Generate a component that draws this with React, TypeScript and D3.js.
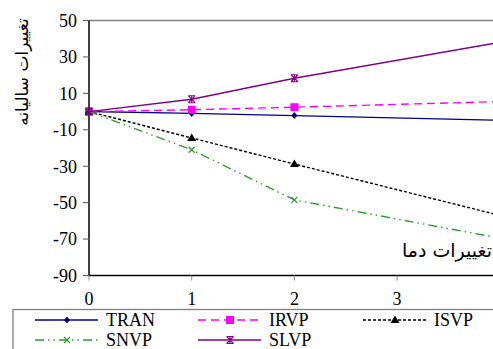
import React from "react";
import * as d3 from "d3";

// x positions of the measured points
const xs = [0, 1, 2, 4];

const tran = [0, -1, -2.2, -4.8];
const irvp = [0, 1, 2.4, 5.5];
const isvp = [0, -14.5, -28.8, -57];
const snvp = [0, -21, -48.5, -69.5];
const slvp = [0, 6.8, 18.3, 38];

const yTicks = [50, 30, 10, -10, -30, -50, -70, -90];
const xTicks = [0, 1, 2, 3];

const W = 493;
const H = 349;
const left = 89;
const top = 20.5;
const bottom = 275.5;

const x = d3.scaleLinear().domain([0, 4]).range([left, left + 4 * 102.7]);
const y = d3.scaleLinear().domain([-90, 50]).range([bottom, top]);

const series = [
  { name: "TRAN", values: tran, color: "#000080", dash: "", marker: "diamond" },
  { name: "IRVP", values: irvp, color: "#ff00ff", dash: "8,5", marker: "square" },
  { name: "ISVP", values: isvp, color: "#000000", dash: "3,2", marker: "triangle" },
  { name: "SNVP", values: snvp, color: "#339933", dash: "9,4,1.5,4,1.5,4", marker: "x" },
  { name: "SLVP", values: slvp, color: "#800080", dash: "", marker: "star" },
];

function Marker({ kind, cx, cy, color }: { kind: string; cx: number; cy: number; color: string }) {
  if (kind === "diamond")
    return <path d={`M${cx},${cy - 3.5}L${cx + 3},${cy}L${cx},${cy + 3.5}L${cx - 3},${cy}Z`} fill={color} />;
  if (kind === "square") return <rect x={cx - 4} y={cy - 4} width={8} height={8} fill={color} />;
  if (kind === "triangle")
    return <path d={`M${cx},${cy - 4.5}L${cx + 4.5},${cy + 3}L${cx - 4.5},${cy + 3}Z`} fill={color} />;
  if (kind === "x")
    return (
      <path d={`M${cx - 3},${cy - 3}L${cx + 3},${cy + 3}M${cx - 3},${cy + 3}L${cx + 3},${cy - 3}`} stroke={color} strokeWidth={1.3} />
    );
  return (
    <path
      d={`M${cx - 3.5},${cy - 3.5}L${cx + 3.5},${cy + 3.5}M${cx - 3.5},${cy + 3.5}L${cx + 3.5},${cy - 3.5}M${cx},${cy - 4}L${cx},${cy + 4}M${cx - 3.5},${cy - 3.5}H${cx + 3.5}M${cx - 3.5},${cy + 3.5}H${cx + 3.5}`}
      stroke={color}
      strokeWidth={1.1}
    />
  );
}

export default function App() {
  const line = d3
    .line<number>()
    .x((_, i) => x(xs[i]))
    .y((d) => y(d));

  const legendPos = [
    [35, 320],
    [198, 320],
    [363, 320],
    [35, 340],
    [198, 340],
  ];

  return (
    <svg width={W} height={H} style={{ position: "absolute", left: 0, top: 0, background: "#fff" }}>
      {/* frame top */}
      <line x1={left} x2={W} y1={top} y2={top} stroke="#808080" strokeWidth={1.5} />
      {/* y axis */}
      <line x1={left} x2={left} y1={top} y2={bottom} stroke="#000" strokeWidth={1.5} />
      {yTicks.map((t) => (
        <g key={t}>
          <line x1={left - 6} x2={left} y1={y(t)} y2={y(t)} stroke="#555" />
          <text x={left - 12} y={y(t)} dy="0.35em" textAnchor="end" fontFamily="Liberation Serif" fontSize={18}>
            {t}
          </text>
        </g>
      ))}
      {/* x axis */}
      <line x1={left} x2={W} y1={bottom} y2={bottom} stroke="#000" strokeWidth={1.5} />
      {xTicks.map((t) => (
        <g key={t}>
          <line x1={x(t)} x2={x(t)} y1={bottom} y2={bottom + 5} stroke="#888" />
          <text x={x(t)} y={305} textAnchor="middle" fontFamily="Liberation Serif" fontSize={18}>
            {t}
          </text>
        </g>
      ))}
      {series.map((s) => (
        <g key={s.name}>
          <path d={line(s.values) || ""} fill="none" stroke={s.color} strokeWidth={1.4} strokeDasharray={s.dash} />
          {s.values.map((v, i) => (
            <Marker key={i} kind={s.marker} cx={x(xs[i])} cy={y(v)} color={s.color} />
          ))}
        </g>
      ))}
      <text
        transform="translate(28,72) rotate(-90)"
        textAnchor="middle"
        fontFamily="DejaVu Sans"
        fontSize={17}
        direction="rtl"
      >
        تغییرات سالیانه
      </text>
      <text x={492} y={257} textAnchor="end" fontFamily="DejaVu Sans" fontSize={19}>
        تغییرات دما
      </text>
      {/* legend */}
      <rect x={13} y={309.5} width={W} height={60} fill="#fff" stroke="#808080" strokeWidth={1.3} />
      {series.map((s, i) => {
        const [lx, ly] = legendPos[i];
        return (
          <g key={s.name}>
            <line x1={lx} x2={lx + 63} y1={ly} y2={ly} stroke={s.color} strokeWidth={1.4} strokeDasharray={s.dash} />
            <Marker kind={s.marker} cx={lx + 32} cy={ly} color={s.color} />
            <text x={lx + 71} y={ly} dy="0.35em" fontFamily="Liberation Serif" fontSize={18}>
              {s.name}
            </text>
          </g>
        );
      })}
    </svg>
  );
}
